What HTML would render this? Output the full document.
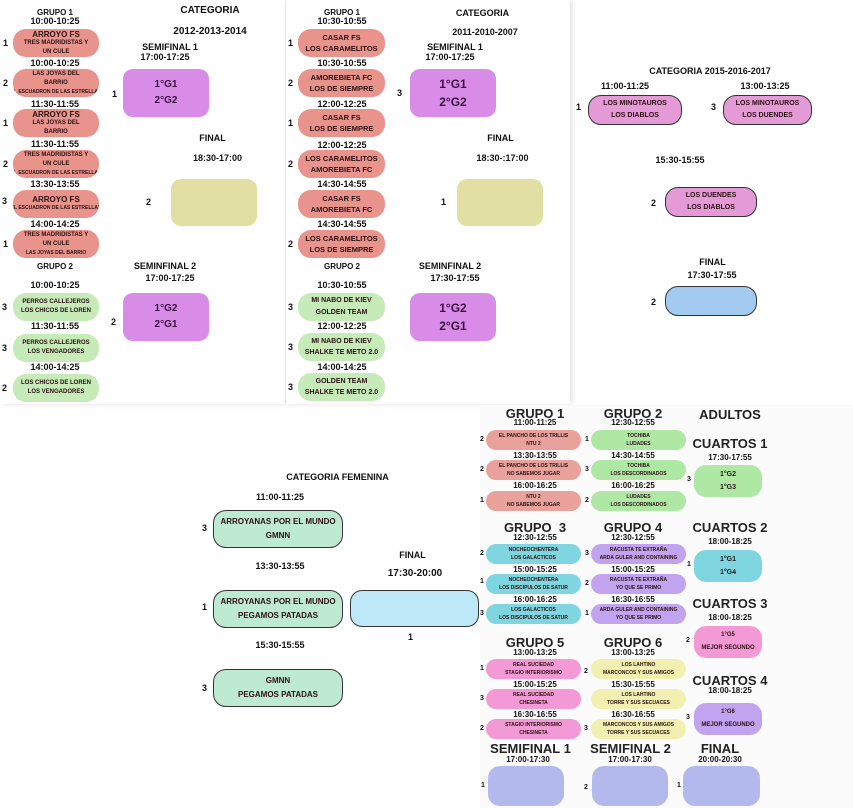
<!DOCTYPE html>
<html><head><meta charset="utf-8"><style>
*{margin:0;padding:0;box-sizing:border-box}
body{width:853px;height:808px;background:#fff;position:relative;overflow:hidden;font-family:"Liberation Sans",sans-serif;color:#111}
.a{position:absolute}
.t{position:absolute;text-align:center;font-weight:bold;font-size:9px;line-height:10px;white-space:nowrap}
.h{position:absolute;text-align:center;font-weight:bold;font-size:13px;line-height:14px;white-space:nowrap;color:#222}
.p{position:absolute;display:flex;flex-direction:column;justify-content:center;align-items:center;font-weight:bold;font-size:6px;line-height:9px;text-align:center;white-space:nowrap;overflow:hidden;color:#2a1010}
.n{position:absolute;font-weight:bold;font-size:9px;line-height:10px}
.r{background:#e8948c;border-radius:13px}
.g{background:#c6eab8;border-radius:13px}
.pu{background:#d88ce8;border-radius:10px;font-size:10px;line-height:16px;color:#3a1040}
.y{background:#e2dfa5;border-radius:10px}
.sh{box-shadow:2px 0 6px rgba(0,0,0,.12)}
</style></head><body>
<div class="a sh" style="left:0;top:0;width:285px;height:404px;background:#fff"></div>
<div class="a sh" style="left:286px;top:0;width:284px;height:404px;background:#fff"></div>
<div class="a" style="left:480px;top:405px;width:373px;height:403px;background:#fbfbfb"></div>

<!-- Panel 1 -->
<div class="t" style="left:15px;top:8px;width:80px;font-size:8px">GRUPO 1</div>
<div class="t" style="left:15px;top:16px;width:80px">10:00-10:25</div>
<div class="p r" style="left:13px;top:29px;width:86px;height:28px"><div style="font-size:8px">ARROYO FS</div><div>TRES MADRIDISTAS Y</div><div>UN CULE</div></div>
<div class="t" style="left:15px;top:58px;width:80px">10:00-10:25</div>
<div class="p r" style="left:13px;top:69px;width:86px;height:28px"><div>LAS JOYAS DEL</div><div>BARRIO</div><div style="font-size:5px">EL ESCUADRON DE LAS ESTRELLAS</div></div>
<div class="t" style="left:15px;top:99px;width:80px">11:30-11:55</div>
<div class="p r" style="left:13px;top:109px;width:86px;height:28px"><div style="font-size:8px">ARROYO FS</div><div>LAS JOYAS DEL</div><div>BARRIO</div></div>
<div class="t" style="left:15px;top:139px;width:80px">11:30-11:55</div>
<div class="p r" style="left:13px;top:150px;width:86px;height:28px"><div>TRES MADRIDISTAS Y</div><div>UN CULE</div><div style="font-size:5px">EL ESCUADRON DE LAS ESTRELLAS</div></div>
<div class="t" style="left:15px;top:179px;width:80px">13:30-13:55</div>
<div class="p r" style="left:13px;top:190px;width:86px;height:28px"><div style="font-size:8px">ARROYO FS</div><div style="font-size:5px">EL ESCUADRON DE LAS ESTRELLAS</div></div>
<div class="t" style="left:15px;top:219px;width:80px">14:00-14:25</div>
<div class="p r" style="left:13px;top:230px;width:86px;height:28px"><div>TRES MADRIDISTAS Y</div><div>UN CULE</div><div style="font-size:5px">LAS JOYAS DEL BARRIO</div></div>
<div class="n" style="left:3px;top:38px">1</div><div class="n" style="left:3px;top:78px">2</div><div class="n" style="left:3px;top:118px">1</div><div class="n" style="left:3px;top:159px">2</div><div class="n" style="left:2px;top:196px">3</div><div class="n" style="left:3px;top:239px">1</div>
<div class="t" style="left:15px;top:262px;width:80px;font-size:8px">GRUPO 2</div>
<div class="t" style="left:15px;top:280px;width:80px">10:00-10:25</div>
<div class="p g" style="left:13px;top:293px;width:86px;height:28px"><div>PERROS CALLEJEROS</div><div>LOS CHICOS DE LOREN</div></div>
<div class="t" style="left:15px;top:321px;width:80px">11:30-11:55</div>
<div class="p g" style="left:13px;top:334px;width:86px;height:28px"><div>PERROS CALLEJEROS</div><div>LOS VENGADORES</div></div>
<div class="t" style="left:15px;top:362px;width:80px">14:00-14:25</div>
<div class="p g" style="left:13px;top:374px;width:86px;height:28px"><div>LOS CHICOS DE LOREN</div><div>LOS VENGADORES</div></div>
<div class="n" style="left:2px;top:302px">3</div><div class="n" style="left:2px;top:343px">3</div><div class="n" style="left:2px;top:383px">2</div>
<div class="t" style="left:160px;top:6px;width:100px;font-size:10px">CATEGORIA</div>
<div class="t" style="left:150px;top:27px;width:120px;font-size:10px">2012-2013-2014</div>
<div class="t" style="left:130px;top:42px;width:80px">SEMIFINAL 1</div>
<div class="t" style="left:130px;top:52px;width:70px">17:00-17:25</div>
<div class="p pu" style="left:123px;top:69px;width:86px;height:48px"><div>1°G1</div><div>2°G2</div></div>
<div class="n" style="left:112px;top:89px">1</div>
<div class="t" style="left:190px;top:133px;width:45px">FINAL</div>
<div class="t" style="left:185px;top:153px;width:65px">18:30-17:00</div>
<div class="p y" style="left:171px;top:179px;width:86px;height:47px"></div>
<div class="n" style="left:146px;top:197px">2</div>
<div class="t" style="left:125px;top:261px;width:80px">SEMINFINAL 2</div>
<div class="t" style="left:135px;top:273px;width:70px">17:00-17:25</div>
<div class="p pu" style="left:123px;top:293px;width:86px;height:48px"><div>1°G2</div><div>2°G1</div></div>
<div class="n" style="left:111px;top:317px">2</div>

<!-- Panel 2 -->
<div class="t" style="left:302px;top:8px;width:80px;font-size:8px">GRUPO 1</div>
<div class="t" style="left:302px;top:16px;width:80px">10:30-10:55</div>
<div class="p r" style="left:298px;top:29px;width:87px;height:28px;font-size:7.5px;line-height:11px"><div>CASAR FS</div><div>LOS CARAMELITOS</div></div>
<div class="t" style="left:302px;top:58px;width:80px">10:30-10:55</div>
<div class="p r" style="left:298px;top:69px;width:87px;height:28px;font-size:7.5px;line-height:11px"><div>AMOREBIETA FC</div><div>LOS DE SIEMPRE</div></div>
<div class="t" style="left:302px;top:99px;width:80px">12:00-12:25</div>
<div class="p r" style="left:298px;top:109px;width:87px;height:28px;font-size:7.5px;line-height:11px"><div>CASAR FS</div><div>LOS DE SIEMPRE</div></div>
<div class="t" style="left:302px;top:140px;width:80px">12:00-12:25</div>
<div class="p r" style="left:298px;top:150px;width:87px;height:28px;font-size:7.5px;line-height:11px"><div>LOS CARAMELITOS</div><div>AMOREBIETA FC</div></div>
<div class="t" style="left:302px;top:179px;width:80px">14:30-14:55</div>
<div class="p r" style="left:298px;top:190px;width:87px;height:28px;font-size:7.5px;line-height:11px"><div>CASAR FS</div><div>AMOREBIETA FC</div></div>
<div class="t" style="left:302px;top:219px;width:80px">14:30-14:55</div>
<div class="p r" style="left:298px;top:230px;width:87px;height:28px;font-size:7.5px;line-height:11px"><div>LOS CARAMELITOS</div><div>LOS DE SIEMPRE</div></div>
<div class="n" style="left:288px;top:38px">1</div><div class="n" style="left:288px;top:78px">2</div><div class="n" style="left:288px;top:118px">1</div><div class="n" style="left:288px;top:159px">2</div><div class="n" style="left:288px;top:239px">2</div>
<div class="t" style="left:302px;top:262px;width:80px;font-size:8px">GRUPO 2</div>
<div class="t" style="left:302px;top:280px;width:80px">10:30-10:55</div>
<div class="p g" style="left:298px;top:293px;width:87px;height:28px;font-size:7px;line-height:12px"><div>MI NABO DE KIEV</div><div>GOLDEN TEAM</div></div>
<div class="t" style="left:302px;top:321px;width:80px">12:00-12:25</div>
<div class="p g" style="left:298px;top:333px;width:87px;height:28px;font-size:7px;line-height:11px"><div>MI NABO DE KIEV</div><div>SHALKE TE METO 2.0</div></div>
<div class="t" style="left:302px;top:362px;width:80px">14:00-14:25</div>
<div class="p g" style="left:298px;top:373px;width:87px;height:28px;font-size:7px;line-height:11px"><div>GOLDEN TEAM</div><div>SHALKE TE METO 2.0</div></div>
<div class="n" style="left:288px;top:302px">3</div><div class="n" style="left:288px;top:342px">3</div><div class="n" style="left:288px;top:382px">3</div>
<div class="t" style="left:435px;top:8px;width:95px;font-size:9px">CATEGORIA</div>
<div class="t" style="left:430px;top:27px;width:110px;font-size:9px">2011-2010-2007</div>
<div class="t" style="left:415px;top:42px;width:80px">SEMIFINAL 1</div>
<div class="t" style="left:415px;top:52px;width:70px">17:00-17:25</div>
<div class="p pu" style="left:410px;top:69px;width:86px;height:48px;font-size:12px;line-height:18px"><div>1°G1</div><div>2°G2</div></div>
<div class="n" style="left:397px;top:88px">3</div>
<div class="t" style="left:478px;top:133px;width:45px">FINAL</div>
<div class="t" style="left:470px;top:153px;width:65px">18:30-:17:00</div>
<div class="p y" style="left:457px;top:179px;width:86px;height:47px"></div>
<div class="n" style="left:441px;top:197px">1</div>
<div class="t" style="left:410px;top:261px;width:80px">SEMINFINAL 2</div>
<div class="t" style="left:420px;top:273px;width:70px">17:30-17:55</div>
<div class="p pu" style="left:410px;top:293px;width:86px;height:48px;font-size:12px;line-height:18px"><div>1°G2</div><div>2°G1</div></div>

<!-- Panel 3 -->
<div class="t" style="left:625px;top:66px;width:170px">CATEGORIA 2015-2016-2017</div>
<div class="t" style="left:595px;top:81px;width:60px">11:00-11:25</div>
<div class="t" style="left:735px;top:81px;width:60px">13:00-13:25</div>
<div class="p" style="left:588px;top:95px;width:94px;height:30px;background:#e59ad8;border:1.5px solid #333;border-radius:13px;font-size:7px;line-height:12px"><div>LOS MINOTAUROS</div><div>LOS DIABLOS</div></div>
<div class="p" style="left:723px;top:95px;width:89px;height:30px;background:#e59ad8;border:1.5px solid #333;border-radius:13px;font-size:7px;line-height:12px"><div>LOS MINOTAUROS</div><div>LOS DUENDES</div></div>
<div class="n" style="left:576px;top:102px">1</div><div class="n" style="left:711px;top:102px">3</div>
<div class="t" style="left:650px;top:155px;width:60px">15:30-15:55</div>
<div class="p" style="left:665px;top:187px;width:92px;height:30px;background:#e59ad8;border:1.5px solid #333;border-radius:13px;font-size:7px;line-height:12px"><div>LOS DUENDES</div><div>LOS DIABLOS</div></div>
<div class="n" style="left:651px;top:198px">2</div>
<div class="t" style="left:690px;top:257px;width:45px">FINAL</div>
<div class="t" style="left:682px;top:270px;width:60px">17:30-17:55</div>
<div class="a" style="left:665px;top:286px;width:92px;height:30px;background:#a3cbef;border:1.5px solid #333;border-radius:13px"></div>
<div class="n" style="left:651px;top:297px">2</div>

<!-- Femenina -->
<div class="t" style="left:260px;top:472px;width:155px">CATEGORIA FEMENINA</div>
<div class="t" style="left:240px;top:492px;width:80px">11:00-11:25</div>
<div class="p" style="left:213px;top:510px;width:130px;height:38px;background:#bfead2;border:1.5px solid #333;border-radius:13px;font-size:8px;line-height:14px"><div>ARROYANAS POR EL MUNDO</div><div>GMNN</div></div>
<div class="n" style="left:202px;top:523px">3</div>
<div class="t" style="left:240px;top:561px;width:80px">13:30-13:55</div>
<div class="p" style="left:213px;top:590px;width:130px;height:38px;background:#bfead2;border:1.5px solid #333;border-radius:13px;font-size:8px;line-height:14px"><div>ARROYANAS POR EL MUNDO</div><div>PEGAMOS PATADAS</div></div>
<div class="n" style="left:202px;top:602px">1</div>
<div class="t" style="left:240px;top:640px;width:80px">15:30-15:55</div>
<div class="p" style="left:213px;top:669px;width:130px;height:38px;background:#bfead2;border:1.5px solid #333;border-radius:13px;font-size:8px;line-height:14px"><div>GMNN</div><div>PEGAMOS PATADAS</div></div>
<div class="n" style="left:202px;top:683px">3</div>
<div class="t" style="left:390px;top:550px;width:45px">FINAL</div>
<div class="t" style="left:375px;top:569px;width:80px;font-size:10px">17:30-20:00</div>
<div class="a" style="left:350px;top:590px;width:129px;height:37px;background:#bde8f8;border:1.5px solid #333;border-radius:12px"></div>
<div class="n" style="left:408px;top:632px">1</div>

<!-- Adultos -->
<div class="h" style="left:490px;top:407px;width:90px">GRUPO 1</div>
<div class="t" style="left:490px;top:418px;width:90px;font-size:8px;line-height:9px">11:00-11:25</div>
<div class="h" style="left:588px;top:407px;width:90px">GRUPO 2</div>
<div class="t" style="left:588px;top:418px;width:90px;font-size:8px;line-height:9px">12:30-12:55</div>
<div class="h" style="left:690px;top:408px;width:80px">ADULTOS</div>
<div class="h" style="left:690px;top:437px;width:80px">CUARTOS 1</div>
<div class="t" style="left:690px;top:453px;width:80px;font-size:8px">17:30-17:55</div>

<div class="p" style="left:486px;top:430px;width:95px;height:20px;background:#e8a19b;border-radius:10px;font-size:5px;line-height:8px"><div>EL PANCHO DE LOS TRILLIS</div><div>NTU 2</div></div>
<div class="t" style="left:490px;top:451px;width:90px;font-size:8px;line-height:9px">13:30-13:55</div>
<div class="p" style="left:486px;top:460px;width:95px;height:20px;background:#e8a19b;border-radius:10px;font-size:5px;line-height:8px"><div>EL PANCHO DE LOS TRILLIS</div><div>NO SABEMOS JUGAR</div></div>
<div class="t" style="left:490px;top:481px;width:90px;font-size:8px;line-height:9px">16:00-16:25</div>
<div class="p" style="left:486px;top:491px;width:95px;height:20px;background:#e8a19b;border-radius:10px;font-size:5px;line-height:8px"><div>NTU 2</div><div>NO SABEMOS JUGAR</div></div>
<div class="n" style="left:480px;top:435px;font-size:7px">2</div><div class="n" style="left:480px;top:465px;font-size:7px">2</div><div class="n" style="left:480px;top:496px;font-size:7px">1</div>

<div class="p" style="left:591px;top:430px;width:95px;height:20px;background:#aee8a4;border-radius:10px;font-size:5px;line-height:8px"><div>TOCHIBA</div><div>LUDADES</div></div>
<div class="t" style="left:588px;top:451px;width:90px;font-size:8px;line-height:9px">14:30-14:55</div>
<div class="p" style="left:591px;top:460px;width:95px;height:20px;background:#aee8a4;border-radius:10px;font-size:5px;line-height:8px"><div>TOCHIBA</div><div>LOS DESCORDINADOS</div></div>
<div class="t" style="left:588px;top:481px;width:90px;font-size:8px;line-height:9px">16:00-16:25</div>
<div class="p" style="left:591px;top:491px;width:95px;height:20px;background:#aee8a4;border-radius:10px;font-size:5px;line-height:8px"><div>LUDADES</div><div>LOS DESCORDINADOS</div></div>
<div class="n" style="left:585px;top:435px;font-size:7px">1</div><div class="n" style="left:585px;top:465px;font-size:7px">3</div><div class="n" style="left:585px;top:496px;font-size:7px">2</div>

<div class="p" style="left:694px;top:465px;width:68px;height:32px;background:#aee8a4;border-radius:12px;font-size:7px;line-height:13px"><div>1°G2</div><div>1°G3</div></div>
<div class="n" style="left:687px;top:475px;font-size:7px">3</div>

<div class="h" style="left:490px;top:521px;width:90px">GRUPO&nbsp; 3</div>
<div class="t" style="left:490px;top:533px;width:90px;font-size:8px;line-height:9px">12:30-12:55</div>
<div class="h" style="left:588px;top:521px;width:90px">GRUPO 4</div>
<div class="t" style="left:588px;top:533px;width:90px;font-size:8px;line-height:9px">12:30-12:55</div>
<div class="h" style="left:690px;top:521px;width:80px">CUARTOS 2</div>
<div class="t" style="left:690px;top:537px;width:80px;font-size:8px">18:00-18:25</div>

<div class="p" style="left:486px;top:544px;width:95px;height:20px;background:#7fd5e0;border-radius:10px;font-size:5px;line-height:8px"><div>NOCHEOCHENTERA</div><div>LOS GALACTICOS</div></div>
<div class="t" style="left:490px;top:565px;width:90px;font-size:8px;line-height:9px">15:00-15:25</div>
<div class="p" style="left:486px;top:574px;width:95px;height:20px;background:#7fd5e0;border-radius:10px;font-size:5px;line-height:8px"><div>NOCHEOCHENTERA</div><div>LOS DISCIPULOS DE SATUR</div></div>
<div class="t" style="left:490px;top:595px;width:90px;font-size:8px;line-height:9px">16:00-16:25</div>
<div class="p" style="left:486px;top:604px;width:95px;height:20px;background:#7fd5e0;border-radius:10px;font-size:5px;line-height:8px"><div>LOS GALACTICOS</div><div>LOS DISCIPULOS DE SATUR</div></div>
<div class="n" style="left:480px;top:549px;font-size:7px">2</div><div class="n" style="left:480px;top:577px;font-size:7px">1</div><div class="n" style="left:480px;top:609px;font-size:7px">3</div>

<div class="p" style="left:591px;top:544px;width:95px;height:20px;background:#c2a3f0;border-radius:10px;font-size:5px;line-height:8px"><div>RACUSTA TE EXTRAÑA</div><div>ARDA GULER AND CONTAINING</div></div>
<div class="t" style="left:588px;top:565px;width:90px;font-size:8px;line-height:9px">15:00-15:25</div>
<div class="p" style="left:591px;top:574px;width:95px;height:20px;background:#c2a3f0;border-radius:10px;font-size:5px;line-height:8px"><div>RACUSTA TE EXTRAÑA</div><div>YO QUE SE PRIMO</div></div>
<div class="t" style="left:588px;top:595px;width:90px;font-size:8px;line-height:9px">16:30-16:55</div>
<div class="p" style="left:591px;top:604px;width:95px;height:20px;background:#c2a3f0;border-radius:10px;font-size:5px;line-height:8px"><div>ARDA GULER AND CONTAINING</div><div>YO QUE SE PRIMO</div></div>
<div class="n" style="left:585px;top:549px;font-size:7px">3</div><div class="n" style="left:585px;top:579px;font-size:7px">2</div><div class="n" style="left:585px;top:609px;font-size:7px">1</div>

<div class="p" style="left:694px;top:550px;width:68px;height:32px;background:#7fd5e0;border-radius:12px;font-size:7px;line-height:13px"><div>1°G1</div><div>1°G4</div></div>
<div class="n" style="left:687px;top:560px;font-size:7px">1</div>

<div class="h" style="left:690px;top:597px;width:80px">CUARTOS 3</div>
<div class="t" style="left:690px;top:613px;width:80px;font-size:8px">18:00-18:25</div>
<div class="p" style="left:694px;top:626px;width:68px;height:32px;background:#f39ad6;border-radius:12px;font-size:6px;line-height:13px"><div>1°G5</div><div>MEJOR SEGUNDO</div></div>
<div class="n" style="left:686px;top:636px;font-size:7px">2</div>

<div class="h" style="left:490px;top:636px;width:90px">GRUPO 5</div>
<div class="t" style="left:490px;top:648px;width:90px;font-size:8px;line-height:9px">13:00-13:25</div>
<div class="h" style="left:588px;top:636px;width:90px">GRUPO 6</div>
<div class="t" style="left:588px;top:648px;width:90px;font-size:8px;line-height:9px">13:00-13:25</div>
<div class="h" style="left:690px;top:674px;width:80px">CUARTOS 4</div>
<div class="t" style="left:690px;top:686px;width:80px;font-size:8px">18:00-18:25</div>

<div class="p" style="left:486px;top:659px;width:95px;height:20px;background:#f39ad6;border-radius:10px;font-size:5px;line-height:8px"><div>REAL SUCIEDAD</div><div>STAGIO INTERIORISMO</div></div>
<div class="t" style="left:490px;top:680px;width:90px;font-size:8px;line-height:9px">15:00-15:25</div>
<div class="p" style="left:486px;top:689px;width:95px;height:20px;background:#f39ad6;border-radius:10px;font-size:5px;line-height:8px"><div>REAL SUCIEDAD</div><div>CHESINETA</div></div>
<div class="t" style="left:490px;top:710px;width:90px;font-size:8px;line-height:9px">16:30-16:55</div>
<div class="p" style="left:486px;top:719px;width:95px;height:20px;background:#f39ad6;border-radius:10px;font-size:5px;line-height:8px"><div>STAGIO INTERIORISMO</div><div>CHESINETA</div></div>
<div class="n" style="left:480px;top:664px;font-size:7px">1</div><div class="n" style="left:480px;top:694px;font-size:7px">3</div><div class="n" style="left:480px;top:724px;font-size:7px">2</div>

<div class="p" style="left:591px;top:659px;width:95px;height:20px;background:#f2f0b0;border-radius:10px;font-size:5px;line-height:8px"><div>LOS LAHTINO</div><div>MARCONCOS Y SUS AMIGOS</div></div>
<div class="t" style="left:588px;top:680px;width:90px;font-size:8px;line-height:9px">15:30-15:55</div>
<div class="p" style="left:591px;top:689px;width:95px;height:20px;background:#f2f0b0;border-radius:10px;font-size:5px;line-height:8px"><div>LOS LAHTINO</div><div>TORRE Y SUS SECUACES</div></div>
<div class="t" style="left:588px;top:710px;width:90px;font-size:8px;line-height:9px">16:30-16:55</div>
<div class="p" style="left:591px;top:719px;width:95px;height:20px;background:#f2f0b0;border-radius:10px;font-size:5px;line-height:8px"><div>MARCONCOS Y SUS AMIGOS</div><div>TORRE Y SUS SECUACES</div></div>
<div class="n" style="left:584px;top:667px;font-size:7px">2</div><div class="n" style="left:584px;top:724px;font-size:7px">3</div>

<div class="p" style="left:694px;top:703px;width:68px;height:32px;background:#c2a3f0;border-radius:12px;font-size:6px;line-height:13px"><div>1°G6</div><div>MEJOR SEGUNDO</div></div>
<div class="n" style="left:686px;top:713px;font-size:7px">3</div>

<div class="h" style="left:483px;top:742px;width:95px">SEMIFINAL 1</div>
<div class="t" style="left:488px;top:755px;width:80px;font-size:8px;line-height:9px">17:00-17:30</div>
<div class="h" style="left:583px;top:742px;width:95px">SEMIFINAL 2</div>
<div class="t" style="left:590px;top:755px;width:80px;font-size:8px;line-height:9px">17:00-17:30</div>
<div class="h" style="left:680px;top:742px;width:80px">FINAL</div>
<div class="t" style="left:680px;top:755px;width:80px;font-size:8px;line-height:9px">20:00-20:30</div>
<div class="a" style="left:488px;top:766px;width:76px;height:40px;background:#b3b9ec;border-radius:12px"></div>
<div class="a" style="left:592px;top:766px;width:76px;height:40px;background:#b3b9ec;border-radius:12px"></div>
<div class="a" style="left:683px;top:766px;width:77px;height:40px;background:#b3b9ec;border-radius:12px"></div>
<div class="n" style="left:481px;top:781px;font-size:7px">1</div><div class="n" style="left:584px;top:783px;font-size:7px">2</div><div class="n" style="left:677px;top:781px;font-size:7px">1</div>
</body></html>
